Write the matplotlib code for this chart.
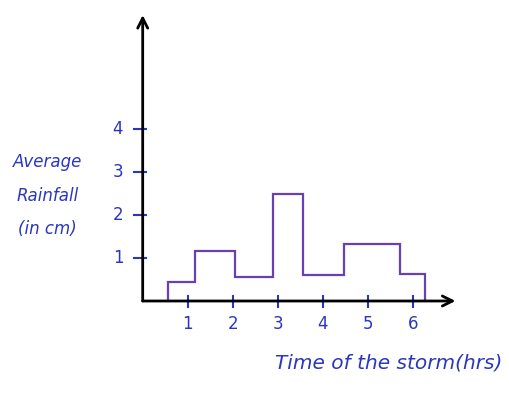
import matplotlib
matplotlib.use("Agg")
import matplotlib.pyplot as plt

# Data
edges = [0.56, 1.16, 2.05, 2.90, 3.56, 4.47, 5.72, 6.27]
rainfall = [0.45, 1.16, 0.56, 2.49, 0.60, 1.33, 0.63]
x_ticks = [1, 2, 3, 4, 5, 6]
y_ticks = [1, 2, 3, 4]

BLUE = "#2a36c0"
PURPLE = "#6a3fb0"

fig = plt.figure(figsize=(5.09, 3.94), dpi=100)
ax = fig.add_axes([0, 0, 1, 1])
ax.set_xlim(-142.7 / 45, (509 - 142.7) / 45)
ax.set_ylim(-93 / 43, 301 / 43)
ax.axis("off")

# axes with arrow heads
ax.annotate("", xy=(0, 6.65), xytext=(0, 0),
            arrowprops=dict(arrowstyle="->", lw=2.0, color="black",
                            mutation_scale=18, shrinkA=0, shrinkB=0))
ax.annotate("", xy=(6.95, 0), xytext=(0, 0),
            arrowprops=dict(arrowstyle="->", lw=2.0, color="black",
                            mutation_scale=18, shrinkA=0, shrinkB=0))

# ticks
for t in y_ticks:
    ax.plot([-0.2, 0.08], [t, t], color=BLUE, lw=1.5)
    ax.text(-0.55, t, str(t), color=BLUE, fontsize=12, ha="center", va="center",
            family="DejaVu Sans")
for t in x_ticks:
    ax.plot([t, t], [-0.15, 0.12], color=BLUE, lw=1.5)
    ax.text(t, -0.53, str(t), color=BLUE, fontsize=12, ha="center", va="center",
            family="DejaVu Sans")

# histogram-like step outline
ax.stairs(rainfall, edges, baseline=0, color=PURPLE, lw=1.6)

# labels
ax.text(-2.12, 2.45, "Average\nRainfall\n(in cm)", color=BLUE, fontsize=12,
        ha="center", va="center", linespacing=2.1, style="italic",
        family="DejaVu Sans")
ax.text(8.0, -1.45, "Time of the storm(hrs)", color=BLUE, fontsize=14.5,
        ha="right", va="center", style="italic", family="DejaVu Sans")

fig.savefig("out.png", dpi=100)
